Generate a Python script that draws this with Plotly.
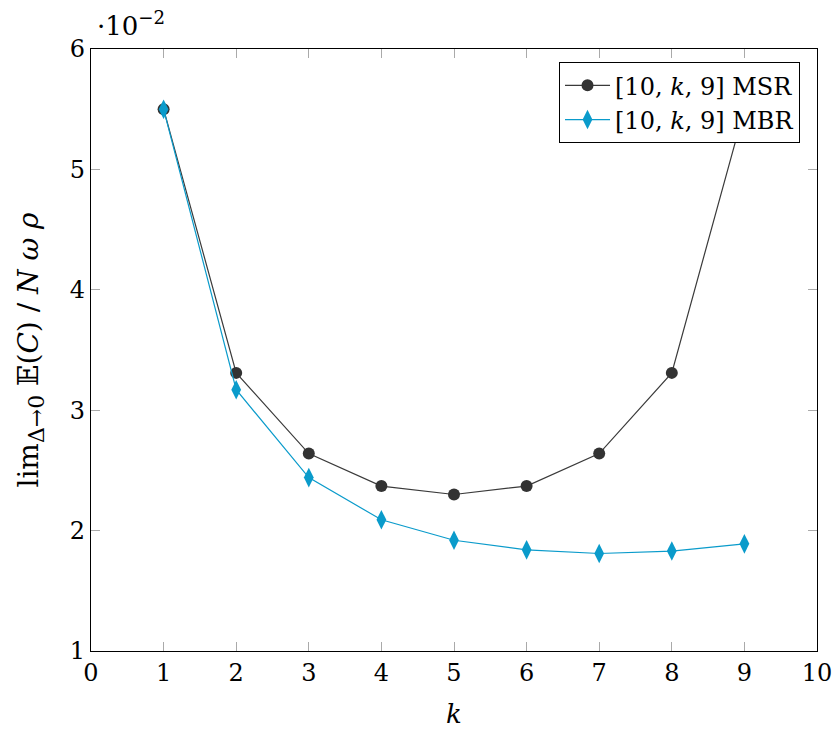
import plotly.graph_objects as go

k_values = [1, 2, 3, 4, 5, 6, 7, 8, 9]
msr_values = [5.50, 3.31, 2.64, 2.37, 2.30, 2.37, 2.64, 3.31, 5.50]  # x 1e-2
mbr_values = [5.50, 3.17, 2.44, 2.09, 1.92, 1.84, 1.81, 1.83, 1.89]  # x 1e-2
x_ticks = list(range(0, 11))
y_ticks = [1, 2, 3, 4, 5, 6]

FONT = "'DejaVu Serif', 'Liberation Serif', serif"

fig = go.Figure()
fig.add_trace(go.Scatter(
    x=k_values, y=msr_values, mode="lines+markers",
    name="[10, <i>k</i>, 9] MSR",
    line=dict(color="#3a3a3a", width=1.2),
    marker=dict(symbol="circle", size=12, color="#333333"),
    cliponaxis=False,
))
fig.add_trace(go.Scatter(
    x=k_values, y=mbr_values, mode="lines+markers",
    name="[10, <i>k</i>, 9] MBR",
    line=dict(color="#0a9bcb", width=1.2),
    marker=dict(symbol="diamond-tall", size=14, color="#0a9bcb"),
    cliponaxis=False,
))

axis_common = dict(
    showgrid=False, zeroline=False, automargin=False,
    showline=True, linecolor="black", linewidth=1.3, mirror="allticks",
    ticks="inside", ticklen=9, tickcolor="#aaaaaa", tickwidth=1,
    tickfont=dict(family=FONT, size=24, color="black"),
)

fig.update_layout(
    width=833, height=729,
    margin=dict(l=91, r=16, t=49, b=78),
    plot_bgcolor="white", paper_bgcolor="white",
    font=dict(family=FONT, color="black"),
    showlegend=True,
    legend=dict(
        x=0.9766, y=0.978, xanchor="right", yanchor="top",
        bgcolor="white", bordercolor="black", borderwidth=1,
        font=dict(family=FONT, size=24, color="black"),
        tracegroupgap=0, itemwidth=45,
    ),
    xaxis=dict(range=[0, 10], tickvals=x_ticks, ticktext=[str(v) for v in x_ticks],
               title=dict(text="<i>k</i>", font=dict(family=FONT, size=26, color="black"), standoff=20),
               **axis_common),
    yaxis=dict(range=[1, 6], tickvals=y_ticks, ticktext=[str(v) for v in y_ticks],
               title=dict(text="lim<sub><span style='font-size:22px'>Δ→0</span></sub> 𝔼(<i>C</i>) / <i>N ω ρ</i>",
                          font=dict(family=FONT, size=28, color="black"), standoff=22),
               **axis_common),
    annotations=[dict(
        text="·10<sup>−2</sup>", xref="paper", yref="paper", x=0.0, y=1.0,
        xanchor="left", yanchor="bottom", yshift=6, xshift=4, showarrow=False,
        font=dict(family=FONT, size=26, color="black"),
    )],
)

fig.write_html("out.html")
